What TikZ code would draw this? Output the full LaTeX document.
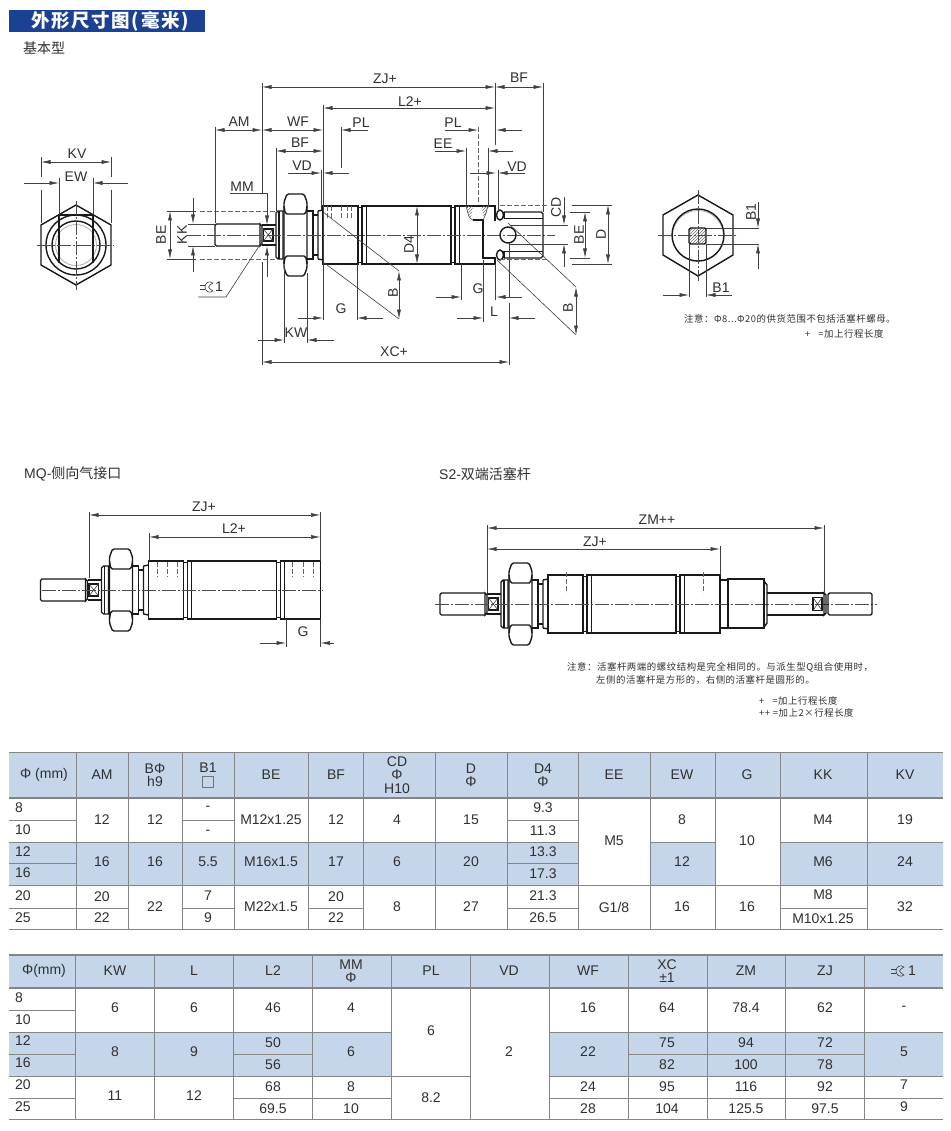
\documentclass[tikz,border=0pt]{standalone}
\usepackage{fontspec}
\usepackage{tikz}
\usetikzlibrary{arrows.meta,patterns}
\setmainfont{Liberation Sans}
\newfontfamily\cjk{Noto Sans CJK SC}
\newfontfamily\cjknote[LetterSpace=6]{Noto Sans CJK SC}
\newfontfamily\cjktitle[LetterSpace=9]{Noto Sans CJK SC}
\newcommand{\bigtext}{\fontsize{14}{13.5}\selectfont}
\newcommand{\notetext}{\fontsize{9.4}{11}\selectfont\cjknote}
\definecolor{headblue}{HTML}{C5D5EA}
\definecolor{titleblue}{HTML}{1B4193}
\definecolor{txtc}{HTML}{303030}
\definecolor{rulec}{HTML}{858585}
\tikzset{
  bodyline/.style={line width=1.4pt,black!90},
  thinline/.style={line width=.6pt,black!75},
  ctrline/.style={line width=.6pt,black!70,dash pattern=on 14pt off 2pt on 2pt off 2pt},
  hidden/.style={line width=.5pt,black!60,dash pattern=on 5pt off 2pt},
  dimboth/.style={thinline,{Latex[length=9.5pt,width=4pt]}-{Latex[length=9.5pt,width=4pt]}},
  dimin/.style={thinline,-{Latex[length=9.5pt,width=4pt]}},
  lab/.style={font=\bigtext,text=txtc,inner sep=0pt},
  cell/.style={font=\bigtext,text=txtc,inner sep=0pt,align=center},
  note/.style={font=\notetext,text=txtc,inner sep=0pt,anchor=west},
  rule/.style={line width=.8pt,rulec},
  headrule/.style={line width=1.3pt,rulec},
  wrench/.pic={
    \draw[thinline] (-8,-2) -- (-3,-2) (-8,2) -- (-3,2);
    \draw[thinline] (5,-4) .. controls (1,-7) and (-3,-4) .. (-3,0) .. controls (-3,4) and (1,7) .. (5,4) -- (2,2) .. controls (0,1) and (0,-1) .. (2,-2) -- cycle;
  },
  rodend/.pic={
    \draw[bodyline,rounded corners=1.5pt] (-63,-11) -- (-108,-11) -- (-108,11) -- (-63,11);
    \draw[bodyline] (-63,-11) -- (-61,-9) -- (-61,9) -- (-63,11) -- cycle;
    \draw[bodyline] (-61,-10) -- (-47,-10) (-61,10) -- (-47,10);
    \draw[bodyline] (-59.5,-6) rectangle (-50,6);
    \draw[thinline] (-59.5,-6) -- (-50,6) (-59.5,6) -- (-50,-6);
    \draw[bodyline] (-47,-22) -- (-45,-24) -- (-40,-24) -- (-40,24) -- (-45,24) -- (-47,22) -- cycle;
    \draw[bodyline] (-44,-24) -- (-44,24);
    \draw[bodyline,rounded corners=1.5pt] (-39,-33) -- (-36,-41) -- (-19,-41) -- (-16,-33) -- (-16,33) -- (-19,41) -- (-36,41) -- (-39,33) -- cycle;
    \draw[bodyline] (-39,-29) .. controls (-38,-22) .. (-36,-21) -- (-19,-21) .. controls (-17,-22) .. (-16,-29);
    \draw[bodyline] (-39,29) .. controls (-38,22) .. (-36,21) -- (-19,21) .. controls (-17,22) .. (-16,29);
    \draw[bodyline] (-16,-24) -- (-10,-24) -- (-10,24) -- (-16,24);
    \draw[bodyline] (-10,-20) -- (-5,-20) (-10,20) -- (-5,20);
    \draw[bodyline] (-5,-24) -- (0,-25) (-5,24) -- (0,25) (-5,-24) -- (-5,24);
  },
  barrel/.pic={
    \draw[bodyline] (0,-29) -- (35,-29) -- (35,29) -- (0,29) -- cycle;
    \draw[bodyline] (35,-27.5) -- (39,-27.5) (35,27.5) -- (39,27.5);
    \draw[bodyline] (39,-29) -- (128,-29) -- (128,29) -- (39,29) -- cycle;
    \draw[bodyline] (128,-27.5) -- (132,-27.5) (128,27.5) -- (132,27.5);
    \draw[bodyline] (132,-29) -- (172,-29) -- (172,29) -- (132,29) -- cycle;
    \draw[line width=1pt,black!90] (43,-29) -- (43,29) (136,-29) -- (136,29);
  },
}

\begin{document}
\begin{tikzpicture}[x=1pt,y=-1pt]
  \useasboundingbox (0,0) rectangle (950,1131);
  \fill[white] (0,0) rectangle (950,1131);

  % Title and captions
  \fill[titleblue] (9,10) rectangle (205,32);
  \node[inner sep=0pt,text=white,font=\fontsize{18.5}{18}\selectfont\cjktitle\bfseries] (title) at (110,21.5) {外形尺寸图(毫米)};
  \node[lab,anchor=west] (capbase) at (23,48) {\cjk 基本型};
  \node[lab,anchor=west] (capmq) at (24,474) {MQ-{\cjk 侧向气接口}};
  \node[lab,anchor=west] (caps) at (439,474) {S2-{\cjk 双端活塞杆}};

  % Left end view
  \draw[bodyline] (76,205) -- (111,225) -- (111,265) -- (76,285) -- (41,265) -- (41,225) -- cycle;
  \draw[bodyline] (76,245) circle (30);
  \draw[bodyline] (76,245) circle (24);
  \draw[line width=.8pt,black!30] (76,245) circle (20.5);
  \draw[bodyline] (59,263) -- (59,215) -- (93,215) -- (93,263);
  \draw[ctrline] (37,245) -- (114,245) (76,201) -- (76,290);
  \draw[thinline] (41,157) -- (41,177) (41,190) -- (41,223) (111,157) -- (111,177) (111,190) -- (111,223);
  \draw[thinline] (59,178) -- (59,215) (93,178) -- (93,215);
  \draw[dimboth] (41,162) -- (111,162);
  \draw[dimin] (24,183) -- (59,183);
  \draw[dimin] (128,183) -- (93,183);
  \node[lab] (kv) at (77,154) {KV};
  \node[lab] (ew) at (76,177) {EW};

  % Right end view
  \draw[bodyline] (698,195) -- (733,215) -- (733,255) -- (698,276) -- (663,255) -- (663,215) -- cycle;
  \draw[line width=.8pt,black!30] (698,236) circle (25.5);
  \draw[bodyline] (698,235) circle (26);
  \draw[bodyline,rounded corners=1.5pt,pattern=north east lines,pattern color=black!55] (689,228) rectangle (706,244);
  \draw[ctrline] (658,235) -- (738,235) (698,190) -- (698,281);
  \draw[thinline] (706,228) -- (759,228) (706,244) -- (759,244);
  \draw[thinline] (689,244) -- (689,297) (706,244) -- (706,297);
  \draw[dimin] (758,202) -- (758,228);
  \draw[dimin] (758,269) -- (758,244);
  \draw[dimin] (663,295) -- (689,295);
  \draw[dimin] (732,295) -- (706,295);
  \node[lab,rotate=90] (b1v) at (751,212) {B1};
  \node[lab] (b1h) at (721,288) {B1};
  \node[note] (notea) at (684,319) {注意：Φ8...Φ20的供货范围不包括活塞杆螺母。};
  \node[note] (noteb) at (805,334) {+\ \ \ =加上行程长度};

  % Main view
  \pic at (323,235) {rodend};
  \pic at (323,235) {barrel};
  \fill[white] (484,221) rectangle (497,257);
  \draw[ctrline] (187,235) -- (555,235);
  \draw[hidden] (200,211) -- (276,211) (200,259) -- (276,259);
  \foreach \tx in {327,331,341,347,351}
    \draw[hidden] (\tx,206) -- (\tx,219);
  % clevis at the rod side
  \draw[bodyline] (504,212) -- (541,212) -- (543,214) -- (543,256) -- (541,258) -- (504,258);
  \draw[bodyline] (504,218.5) -- (543,218.5) (504,251.5) -- (543,251.5) (504,212) -- (504,218.5) (504,251.5) -- (504,258);
  \draw[bodyline] (500,215) ellipse (3.5 and 5) (500,255) ellipse (3.5 and 5);
  \draw[bodyline] (508,235) circle (8);
  \draw[bodyline] (473,220) -- (483,220) -- (483,258) -- (495,258);
  \draw[thinline] (466,205) .. controls (469,218) .. (473,220);
  \draw[thinline] (488,205) .. controls (486,214) .. (483,220);
  \draw[pattern=north east lines,pattern color=black!55,draw=none] (465,206) -- (473,206) -- (471,218) -- cycle;
  \draw[pattern=north east lines,pattern color=black!55,draw=none] (481,206) -- (489,206) -- (484,218) -- cycle;
  % extension lines
  \draw[thinline] (262,83) -- (262,193) (262,262) -- (262,365);
  \draw[thinline] (323,105) -- (323,320);
  \draw[thinline] (495,83) -- (495,145) (495,264) -- (495,300);
  \draw[thinline] (543,83) -- (543,212);
  \draw[thinline] (215,127) -- (215,223);
  \draw[thinline] (276,148) -- (276,211);
  \draw[thinline] (341,127) -- (341,168);
  \draw[hidden] (478,127) -- (478,204);
  \draw[thinline] (466,148) -- (466,205) (488,148) -- (488,207);
  \draw[thinline] (321,170) -- (321,210) (498,170) -- (498,212);
  \draw[thinline] (284,267) -- (284,343) (307,273) -- (307,343);
  \draw[thinline] (357,264) -- (357,320) (461,264) -- (461,300);
  \draw[thinline] (483,260) -- (483,322);
  \draw[thinline] (509,243) -- (509,298) (509,303) -- (509,365);
  \draw[thinline] (188,224) -- (215,224) (188,246) -- (215,246);
  \draw[thinline] (167,211) -- (196,211) (167,259) -- (196,259);
  \draw[thinline] (510,225) -- (568,225) (510,244) -- (568,244);
  \draw[hidden] (500,205) -- (548,205) (500,259) -- (548,259);
  \draw[thinline] (570,212) -- (590,212) (570,258) -- (590,258);
  \draw[thinline] (572,205) -- (612,205) (572,264) -- (612,264);
  % dimension lines
  \draw[dimboth] (262,87) -- (495,87);
  \draw[dimboth] (495,87) -- (543,87);
  \draw[dimboth] (323,108) -- (495,108);
  \draw[dimboth] (215,130) -- (262,130);
  \draw[dimboth] (262,130) -- (323,130);
  \draw[dimin] (368,130) -- (341,130);
  \draw[dimin] (445,130) -- (478,130);
  \draw[dimin] (522,130) -- (496,130);
  \draw[dimboth] (276,151) -- (323,151);
  \draw[dimin] (435,151) -- (466,151);
  \draw[dimin] (513,151) -- (488,151);
  \draw[dimin] (288,173) -- (321,173);
  \draw[dimin] (349,173) -- (323,173);
  \draw[dimin] (470,173) -- (496,173);
  \draw[dimin] (525,173) -- (498,173);
  \draw[dimboth] (170,211) -- (170,259);
  \draw[dimin] (193,198) -- (193,224);
  \draw[dimin] (193,272) -- (193,246);
  \draw[dimboth] (417,206) -- (417,264);
  \draw[dimin] (564,197) -- (564,225);
  \draw[dimin] (564,267) -- (564,244);
  \draw[dimboth] (585,212) -- (585,258);
  \draw[dimboth] (608,205) -- (608,264);
  \draw[thinline] (230,193) -- (267,193) -- (267,204);
  \draw[dimin] (267,204) -- (267,225);
  \draw[dimin] (267,277) -- (267,246);
  \draw[thinline] (198,297) -- (226,297) -- (263,240);
  \draw[thinline] (323,212) -- (399,271) (323,262) -- (399,319);
  \draw[dimboth] (399,271) -- (399,319);
  \draw[thinline] (508,223) -- (576,287) (497,260) -- (576,335);
  \draw[dimboth] (576,287) -- (576,335);
  \draw[dimin] (298,318) -- (323,318);
  \draw[dimin] (383,318) -- (357,318);
  \draw[dimin] (436,297) -- (461,297);
  \draw[dimin] (522,297) -- (496,297);
  \draw[dimin] (457,318) -- (483,318);
  \draw[dimin] (535,318) -- (509,318);
  \draw[dimin] (258,340) -- (284,340);
  \draw[dimin] (334,340) -- (307,340);
  \draw[dimboth] (262,362) -- (509,362);
  % labels
  \node[lab] (zjm) at (385,79) {ZJ+};
  \node[lab] (bfm) at (519,78) {BF};
  \node[lab] (l2m) at (410,102) {L2+};
  \node[lab] (amm) at (239,122) {AM};
  \node[lab] (wfm) at (298,122) {WF};
  \node[lab] (pla) at (361,123) {PL};
  \node[lab] (plb) at (453,123) {PL};
  \node[lab] (bfb) at (300,143) {BF};
  \node[lab] (eem) at (443,144) {EE};
  \node[lab] (vda) at (302,166) {VD};
  \node[lab] (vdb) at (517,167) {VD};
  \node[lab] (mmm) at (242,187) {MM};
  \node[lab,rotate=90] (bea) at (161,235) {BE};
  \node[lab,rotate=90] (kkm) at (182,235) {KK};
  \node[lab,rotate=90] (d4m) at (409,245) {D4};
  \node[lab,rotate=90] (cdm) at (556,207) {CD};
  \node[lab,rotate=90] (beb) at (579,235) {BE};
  \node[lab,rotate=90] (dm) at (601,234) {D};
  \node[lab,rotate=90] (ba) at (393,293) {B};
  \node[lab,rotate=90] (bb) at (568,308) {B};
  \node[lab] (ga) at (341,309) {G};
  \node[lab] (gb) at (478,289) {G};
  \node[lab] (lm) at (494,312) {L};
  \node[lab] (kwm) at (296,333) {KW};
  \node[lab] (xcm) at (394,352) {XC+};
  \pic at (208,287) {wrench};
  \node[lab] (wr) at (219,287) {1};

  % MQ view
  \pic at (148.5,590) {rodend};
  \pic at (148.5,590) {barrel};
  \draw[ctrline] (42,590) -- (323,590);
  \foreach \tx in {157,167,177,292,303,313}
    \draw[hidden] (\tx,562) -- (\tx,577);
  \draw[thinline] (89,512) -- (89,578) (149,533) -- (149,561) (320.5,512) -- (320.5,561);
  \draw[thinline] (286,619) -- (286,647) (320.5,619) -- (320.5,647);
  \draw[dimboth] (89,515) -- (320.5,515);
  \draw[dimboth] (149,537) -- (320.5,537);
  \draw[dimin] (260,643) -- (286,643);
  \draw[dimin] (334,643) -- (320.5,643);
  \node[lab] (zjq) at (204,507) {ZJ+};
  \node[lab] (l2q) at (234,529) {L2+};
  \node[lab] (gq) at (303,632) {G};

  % S2 view
  \pic at (548,604) {rodend};
  \pic at (548,604) {barrel};
  \draw[ctrline] (435,604) -- (877,604);
  \draw[hidden] (566,572) -- (566,593) (703,572) -- (703,593);
  \draw[bodyline] (720,580) -- (728,580) (720,628) -- (728,628);
  \draw[bodyline] (728,579) rectangle (764,628);
  \draw[bodyline] (764,581) -- (767,585) -- (767,623) -- (764,627);
  \draw[bodyline] (767,593) -- (824,593) (767,615) -- (824,615);
  \draw[bodyline] (824,593) -- (826,595) -- (826,613) -- (824,615) -- cycle;
  \draw[bodyline] (813,597.5) rectangle (822,610.5);
  \draw[thinline] (813,597.5) -- (822,610.5) (813,610.5) -- (822,597.5);
  \draw[bodyline,rounded corners=1.5pt] (828,593) -- (872,593) -- (872,615) -- (828,615) -- cycle;
  \draw[thinline] (487,525) -- (487,593) (720,546) -- (720,575) (824,525) -- (824,593);
  \draw[dimboth] (487,528) -- (824,528);
  \draw[dimboth] (487,549) -- (720,549);
  \node[lab] (zms) at (657,520) {ZM++};
  \node[lab] (zjs) at (595,542) {ZJ+};
  \node[note] (notec) at (567,667) {注意：活塞杆两端的螺纹结构是完全相同的。与派生型Q组合使用时，};
  \node[note] (noted) at (596,680) {左侧的活塞杆是方形的，右侧的活塞杆是圆形的。};
  \node[note] (notee) at (759,701) {+\ \ \ =加上行程长度};
  \node[note] (notef) at (759,713) {++ =加上2×行程长度};

  % First table
  \fill[headblue] (9,752) rectangle (943,798);
  \fill[headblue] (9,842) rectangle (578,885) (650,842) rectangle (715,885) (780,842) rectangle (943,885);
  \foreach \rx in {76,128,182,234,308,363,435,507,578,650,715,780,867}
    \draw[rule] (\rx,752) -- (\rx,929);
  \foreach \ya/\xa/\xb in {820/9/76,820/182/234,820/507/578,842/9/578,842/650/715,842/780/943,863/9/76,863/507/578,885/9/943,908/9/128,908/182/234,908/308/363,908/507/578,908/780/867,929/9/943}
    \draw[rule] (\xa,\ya) -- (\xb,\ya);
  \draw[rule] (9,752) -- (943,752);
  \draw[headrule] (9,798) -- (943,798);
  \node[cell] (ha0) at (44,775) {Φ (mm)};
  \foreach \cx/\ct [count=\i] in {102/AM,155/{BΦ\\h9},336/BF,397/{CD\\Φ\\H10},271/BE,471/{D\\Φ},543/{D4\\Φ},614/EE,682/EW,747/G,823/KK,905/KV}
    \node[cell] (ha\i) at (\cx,775) {\ct};
  \node[cell] (hab) at (208,768) {B1};
  \node[draw=black!55,line width=.6pt,minimum size=11pt,inner sep=0pt] (habox) at (208,782) {};
  \foreach \cy/\ct [count=\i] in {808/8,830/10,852/12,873/16,896/20,918/25}
    \node[cell,anchor=west] (sa\i) at (15,\cy) {\ct};
  \foreach \cx/\cy/\ct [count=\i] in {102/820/12,102/862/16,102/897/20,102/918/22,155/820/12,155/862/16,155/907/22,208/808/-,208/832/-,208/862/5.5,208/896/7,208/918/9,271/820/M12x1.25,271/862/M16x1.5,271/907/M22x1.5,336/820/12,336/862/17,336/897/20,336/918/22,397/820/4,397/862/6,397/907/8,471/820/15,471/862/20,471/907/27,543/808/9.3,543/831/11.3,543/852/13.3,543/874/17.3,543/896/21.3,543/918/26.5,614/841/M5,614/907/{G1/8},682/820/8,682/862/12,682/907/16,747/841/10,747/907/16,823/820/M4,823/862/M6,823/895/M8,823/919/M10x1.25,905/820/19,905/862/24,905/907/32}
    \node[cell] (ca\i) at (\cx,\cy) {\ct};

  % Second table
  \fill[headblue] (9,955) rectangle (943,988);
  \fill[headblue] (9,1032) rectangle (391,1076) (549,1032) rectangle (943,1076);
  \foreach \rx in {75,154,233,312,391,470,549,628,707,785,864}
    \draw[rule] (\rx,955) -- (\rx,1119);
  \foreach \ya/\xa/\xb in {1010/9/75,1032/9/391,1032/549/943,1054/9/75,1054/233/312,1054/628/864,1076/9/470,1076/549/943,1098/9/75,1098/233/391,1098/549/943,1119/9/943}
    \draw[rule] (\xa,\ya) -- (\xb,\ya);
  \draw[headrule] (9,955) -- (943,955) (9,988) -- (943,988);
  \node[cell] (hb0) at (44,971) {Φ(mm)};
  \foreach \cx/\ct [count=\i] in {115/KW,194/L,273/L2,351/{MM\\Φ},431/PL,509/VD,588/WF,667/{XC\\±1},746/ZM,825/ZJ}
    \node[cell] (hb\i) at (\cx,971) {\ct};
  \pic at (899,971) {wrench};
  \node[cell] (hbw) at (912,971) {1};
  \foreach \cy/\ct [count=\i] in {998/8,1020/10,1041/12,1063/16,1085/20,1107/25}
    \node[cell,anchor=west] (sb\i) at (15,\cy) {\ct};
  \foreach \cx/\cy/\ct [count=\i] in {115/1008/6,115/1052/8,115/1096/11,194/1008/6,194/1052/9,194/1096/12,273/1008/46,273/1043/50,273/1065/56,273/1087/68,273/1109/69.5,351/1008/4,351/1052/6,351/1087/8,351/1109/10,431/1031/6,431/1098/8.2,509/1052/2,588/1008/16,588/1052/22,588/1087/24,588/1109/28,667/1008/64,667/1043/75,667/1065/82,667/1087/95,667/1109/104,746/1008/78.4,746/1043/94,746/1065/100,746/1087/116,746/1109/125.5,825/1008/62,825/1043/72,825/1065/78,825/1087/92,825/1109/97.5,904/1008/-,904/1052/5,904/1085/7,904/1107/9}
    \node[cell] (cb\i) at (\cx,\cy) {\ct};
\end{tikzpicture}
\end{document}
